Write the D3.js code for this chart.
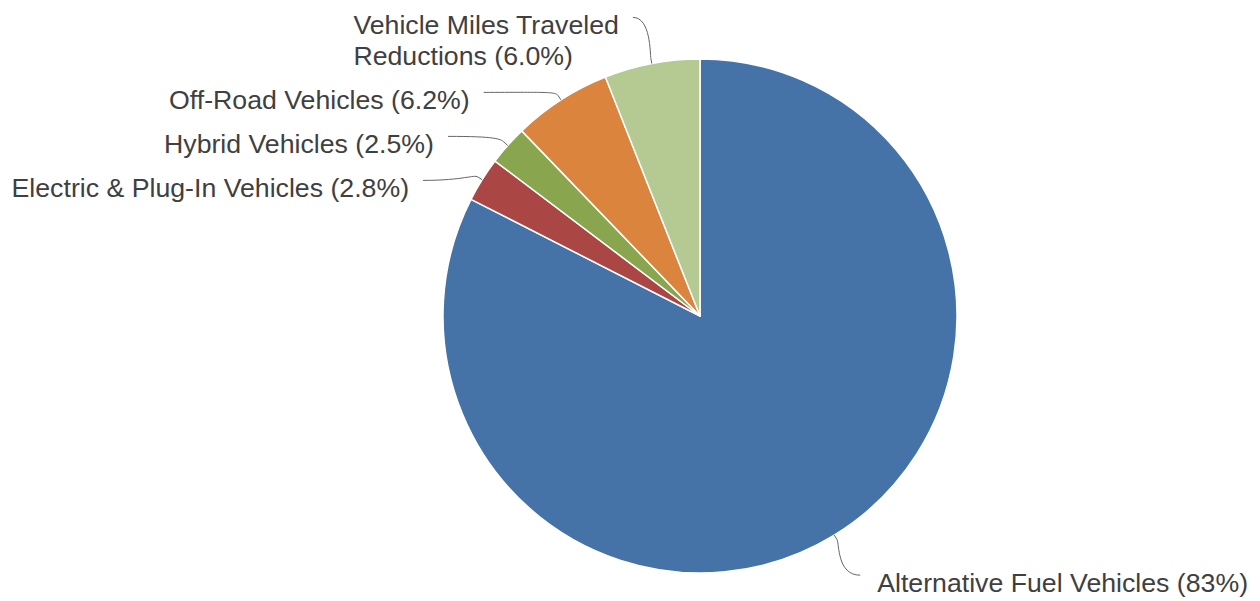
<!DOCTYPE html>
<html>
<head>
<meta charset="utf-8">
<script src="https://cdn.jsdelivr.net/npm/d3@7"></script>
<style>
  body { margin: 0; background: #fff; }
  svg { display: block; }
  text { font-family: "Liberation Sans", Arial, sans-serif; }
</style>
</head>
<body>
<svg width="1260" height="601"></svg>
<script>
const categories = [
  "Alternative Fuel Vehicles",
  "Electric & Plug-In Vehicles",
  "Hybrid Vehicles",
  "Off-Road Vehicles",
  "Vehicle Miles Traveled Reductions"
];
const shares = [82.5, 2.8, 2.5, 6.2, 6.0];
const colors = ["#4572a7", "#aa4643", "#89a54e", "#db843d", "#b5ca92"];

const svg = d3.select("svg");
const cx = 700, cy = 316, r = 257;
const labelDist = 47;     // label anchor distance outside the pie
const textRadius = { "-1": 321, "1": 314 }; // where label text ends (left) / starts (right)
const bendRadius = 272;   // first connector break
const lineH = 31;
const fontSize = 26.7;
const maxLabelW = 430;
const fmt = d3.format(".2r");

const data = categories.map((c, i) => ({ name: c, value: shares[i], color: colors[i] }));
const pie = d3.pie().sort(null).value(d => d.value);
const arcs = pie(data);
const arc = d3.arc().innerRadius(0).outerRadius(r);

const g = svg.append("g").attr("transform", `translate(${cx},${cy})`);

g.selectAll("path.slice")
  .data(arcs)
  .join("path")
  .attr("class", "slice")
  .attr("d", arc)
  .attr("fill", d => d.data.color)
  .attr("stroke", "#fff")
  .attr("stroke-width", 1.5)
  .attr("stroke-linejoin", "round");

// measure helper for wrapping
const measure = g.append("text").attr("font-size", fontSize).attr("visibility", "hidden");
function textW(s) {
  measure.text(s);
  return measure.node().getComputedTextLength();
}
function wrap(s) {
  if (textW(s) <= maxLabelW) return [s];
  const words = s.split(" ");
  const lines = [];
  let cur = "";
  words.forEach(w => {
    const t = cur ? cur + " " + w : w;
    if (cur && textW(t) > 300) {
      lines.push(cur);
      cur = w;
    } else cur = t;
  });
  if (cur) lines.push(cur);
  return lines;
}

const labels = arcs.map(a => {
  const mid = (a.startAngle + a.endAngle) / 2;
  const side = Math.sin(mid) < 0 ? -1 : 1;
  const lines = wrap(`${a.data.name} (${fmt(a.data.value)}%)`);
  return { a, mid, side, lines, y: -Math.cos(mid) * (r + labelDist) };
});

// push labels apart on each side, top to bottom
[-1, 1].forEach(side => {
  const list = labels.filter(l => l.side === side).sort((p, q) => p.y - q.y);
  for (let i = 1; i < list.length; i++) {
    const prev = list[i - 1];
    const minY = prev.y + prev.lines.length * lineH + 13;
    if (list[i].y < minY) list[i].y = minY;
  }
});
measure.remove();

const pt = (ang, rad) => [Math.sin(ang) * rad, -Math.cos(ang) * rad];

labels.forEach(l => {
  const y = l.y;
  const tr = textRadius[l.side];
  const E = pt(l.mid, r);
  const B2 = pt(l.mid, r + 5);
  const C2 = pt(l.mid, r + 10);
  let textX = l.side * Math.sqrt(Math.max(0, tr * tr - y * y));
  // label above the top of the bend circle: hang it just beside the slice
  if (Math.abs(y) > bendRadius) textX = B2[0] + l.side * 32;
  const x0 = textX + (l.side < 0 ? 14 : -17);
  let x1 = l.side * Math.sqrt(Math.max(0, bendRadius * bendRadius - y * y));
  if (l.side < 0) x1 = Math.max(Math.min(x1, B2[0]), x0);
  else x1 = Math.min(Math.max(x1, B2[0]), x0);

  const p = d3.path();
  p.moveTo(x0, y);
  p.bezierCurveTo(x1, y, C2[0], C2[1], B2[0], B2[1]);
  p.lineTo(E[0], E[1]);
  g.append("path")
    .attr("d", p.toString())
    .attr("fill", "none")
    .attr("stroke", "#666")
    .attr("stroke-width", 1);

  const t = g.append("text")
    .attr("font-size", fontSize)
    .attr("fill", "#404040");
  const spans = t.selectAll("tspan").data(l.lines).join("tspan").text(d => d);
  const widths = spans.nodes().map(n => n.getComputedTextLength());
  const boxW = d3.max(widths);
  const left = l.side < 0 ? textX - boxW : textX;
  spans
    .attr("x", left)
    .attr("y", (d, i) => y + 17 + i * lineH);
});
</script>
</body>
</html>
